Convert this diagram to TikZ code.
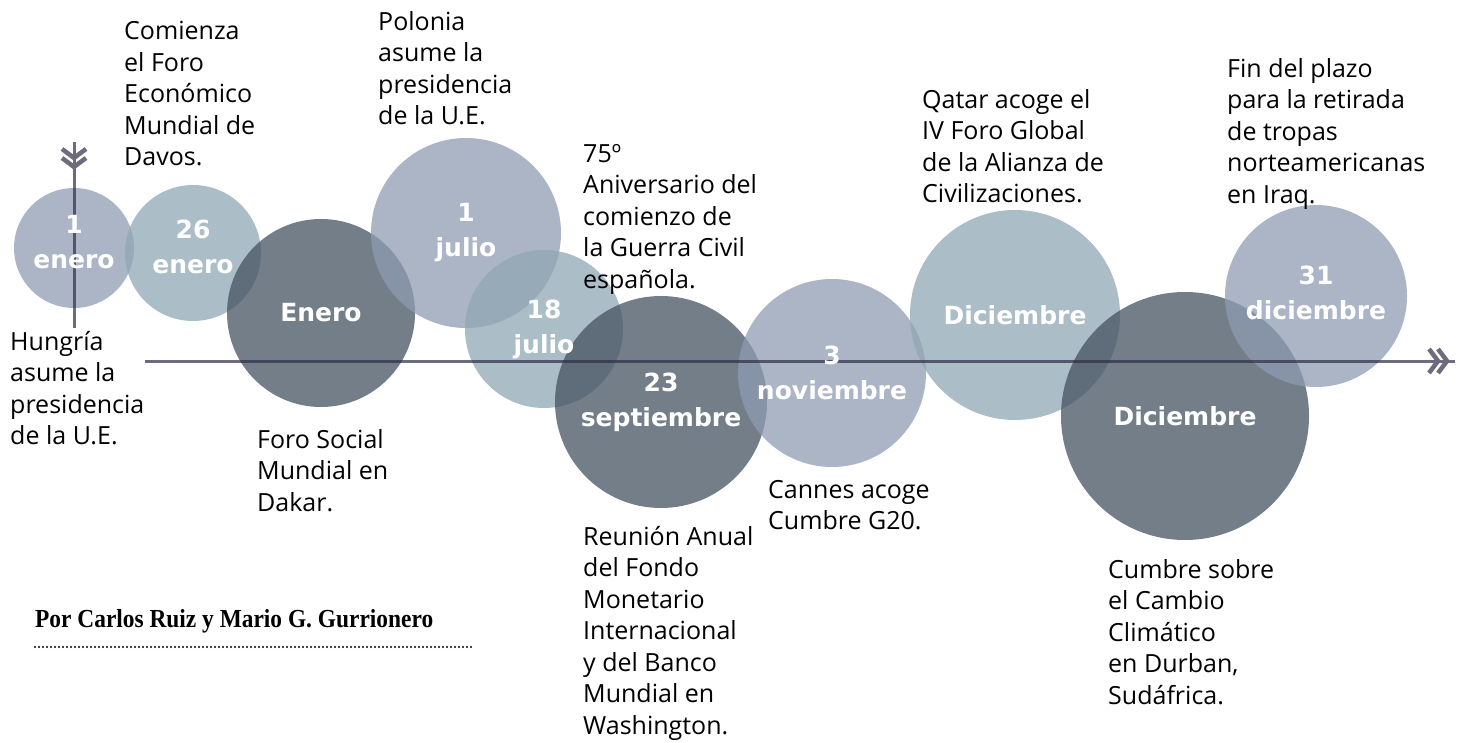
\documentclass[tikz,border=0pt]{standalone}
\usepackage{fontspec}
\setmainfont{Open Sans}
\newfontfamily\datefont{DejaVu Sans}
\newfontfamily\bylinefont{Liberation Serif}[FakeStretch=0.9]
\definecolor{bubblelav}{HTML}{8F9CB2}
\definecolor{bubblesea}{HTML}{8FA7B3}
\definecolor{bubbledark}{HTML}{445360}
\definecolor{axisgray}{HTML}{2E2D47}
\definecolor{chevgray}{HTML}{6D6C7E}

\begin{document}
\begin{tikzpicture}[x=1pt, y=-1pt,
	bubble/.style={circle, inner sep=0pt, fill opacity=.75},
	datelbl/.style={text=white, align=center, inner sep=0pt, font=\datefont\bfseries\fontsize{25}{35}\selectfont},
	note/.style={anchor=north west, align=left, inner sep=0pt, font=\fontsize{25}{31.5}\selectfont},
	byline/.style={anchor=base west, inner sep=0pt, font=\bylinefont\bfseries\fontsize{26}{30}\selectfont},
	axisline/.style={draw=axisgray, draw opacity=.7, line width=3pt},
	chevrons/.pic={
		\draw[chevgray, line width=4.5pt] (-18,-12) -- (-9,0) -- (-18,12);
		\draw[chevgray, line width=4.5pt] (-9,-12) -- (0,0) -- (-9,12);
	}]
	\useasboundingbox (0,0) rectangle (1464,743);

	% bubbles
	\node[bubble, fill=bubblelav, minimum size=120pt] (E1) at (74,248) {};
	\node[bubble, fill=bubblesea, minimum size=136pt] (E26) at (193,253) {};
	\node[bubble, fill=bubbledark, minimum size=188pt] (En) at (321,313) {};
	\node[bubble, fill=bubblelav, minimum size=190pt] (J1) at (466,233) {};
	\node[bubble, fill=bubblesea, minimum size=158pt] (J18) at (544,329) {};
	\node[bubble, fill=bubbledark, minimum size=212pt] (S23) at (661,402) {};
	\node[bubble, fill=bubblelav, minimum size=188pt] (N3) at (832,373) {};
	\node[bubble, fill=bubblesea, minimum size=210pt] (D1) at (1015,315) {};
	\node[bubble, fill=bubbledark, minimum size=248pt] (D2) at (1185,416) {};
	\node[bubble, fill=bubblelav, minimum size=182pt] (D31) at (1316,296) {};

	% timeline
	\coordinate (vtop) at (74,142);
	\coordinate (vbot) at (74,328);
	\coordinate (tstart) at (145,361);
	\coordinate (tend) at (1455,361);
	\draw[axisline] (vtop) -- (vbot);
	\draw[axisline] (tstart) -- (tend);
	\pic[rotate=-90] at (74,167) {chevrons};
	\pic at (1447,361) {chevrons};

	% dates
	\node[datelbl] (E1t) at ([yshift=6pt]E1) {1\\enero};
	\node[datelbl] (E26t) at ([yshift=6pt]E26) {26\\enero};
	\node[datelbl] (Ent) at (En) {Enero};
	\node[datelbl] (J1t) at (J1) {1\\julio};
	\node[datelbl] (J18t) at (J18) {18\\julio};
	\node[datelbl] (S23t) at (S23) {23\\septiembre};
	\node[datelbl] (N3t) at (N3) {3\\noviembre};
	\node[datelbl] (D1t) at (D1) {Diciembre};
	\node[datelbl] (D2t) at (D2) {Diciembre};
	\node[datelbl] (D31t) at ([yshift=3pt]D31) {31\\diciembre};

	% events
	\node[note] (hungria) at (10,331) {Hungría\\asume la\\presidencia\\de la U.E.};
	\node[note] (davos) at (124,21) {Comienza\\el Foro\\Económico\\Mundial de\\Davos.};
	\node[note] (dakar) at (257,429) {Foro Social\\Mundial en\\Dakar.};
	\node[note] (polonia) at (378,11) {Polonia\\asume la\\presidencia\\de la U.E.};
	\node[note] (guerra) at (583,144) {75º\\Aniversario del\\comienzo de\\la Guerra Civil\\española.};
	\node[note] (fmi) at (583,526) {Reunión Anual\\del Fondo\\Monetario\\Internacional\\y del Banco\\Mundial en\\Washington.};
	\node[note] (cannes) at (768,480) {Cannes acoge\\Cumbre G20.};
	\node[note] (qatar) at (922,89) {Qatar acoge el\\IV Foro Global\\de la Alianza de\\Civilizaciones.};
	\node[note] (durban) at (1108,559) {Cumbre sobre\\el Cambio\\Climático\\en Durban,\\Sudáfrica.};
	\node[note] (iraq) at (1227,58) {Fin del plazo\\para la retirada\\de tropas\\norteamericanas\\en Iraq.};

	% byline
	\node[byline] (autores) at (35,627) {Por Carlos Ruiz y Mario G. Gurrionero};
	\coordinate (dotL) at (35,647);
	\coordinate (dotR) at (473,647);
	\draw[line width=2.3pt, line cap=round, dash pattern=on 0pt off 4pt] (dotL) -- (dotR);
\end{tikzpicture}
\end{document}
